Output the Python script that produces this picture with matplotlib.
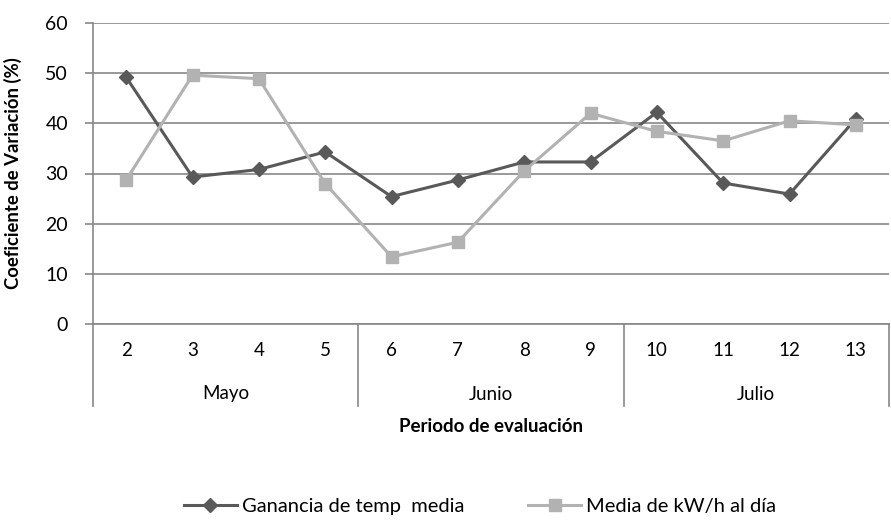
import matplotlib
matplotlib.use("Agg")
import matplotlib.pyplot as plt
from matplotlib.transforms import blended_transform_factory

periods = ["2", "3", "4", "5", "6", "7", "8", "9", "10", "11", "12", "13"]
months = ["Mayo", "Junio", "Julio"]
months_len = [4, 4, 4]
ganancia = [49.2, 29.3, 30.8, 34.3, 25.4, 28.7, 32.3, 32.3, 42.2, 28.1, 25.9, 40.9]
media_kwh = [28.7, 49.6, 48.9, 28.0, 13.4, 16.3, 30.5, 42.0, 38.4, 36.5, 40.5, 39.7]
yticks = [0, 10, 20, 30, 40, 50, 60]

plt.rcParams["font.family"] = ["Lato", "DejaVu Sans"]

fig = plt.figure(figsize=(8.91, 5.25), dpi=100)
ax = fig.add_axes([93 / 891, 1 - 324 / 525, (889 - 93) / 891, (324 - 23) / 525])

x = [i + 0.5 for i in range(len(periods))]
ax.plot(x, ganancia, color="#595959", lw=2.2, marker="D", ms=7,
        label="Ganancia de temp  media", zorder=3)
ax.plot(x, media_kwh, color="#b2b2b2", lw=2.2, marker="s", ms=8,
        label="Media de kW/h al día", zorder=3)

ax.set_xlim(0, len(periods))
ax.set_ylim(0, 60)
ax.set_yticks(yticks)
ax.set_yticklabels([str(v) for v in yticks], fontsize=14)
ax.tick_params(axis="y", length=6, width=1.2, color="#878787", pad=12,
               direction="out")
ax.tick_params(axis="x", bottom=False, labelbottom=False)
ax.grid(axis="y", color="#878787", lw=1.2)
ax.set_axisbelow(True)
for side in ["top", "right"]:
    ax.spines[side].set_visible(False)
ax.spines["left"].set_color("#878787")
ax.spines["bottom"].set_color("#878787")
ax.spines["left"].set_linewidth(1.2)
ax.spines["bottom"].set_linewidth(1.2)

# multi-level category axis
trans = blended_transform_factory(ax.transData, ax.transAxes)
h = 301.0
for xi, lab in zip(x, periods):
    ax.text(xi, -(351 - 324) / h, lab, transform=trans, ha="center", va="center",
            fontsize=13.5)
start = 0
bounds = [0]
for m, n in zip(months, months_len):
    ax.text(start + n / 2, -(394 - 324) / h, m, transform=trans, ha="center",
            va="center", fontsize=13.5)
    start += n
    bounds.append(start)
for b in bounds:
    ax.plot([b, b], [0, -(406 - 324) / h], transform=trans, color="#878787",
            lw=1.2, clip_on=False)

ax.text(0.5, -(427 - 324) / h, "Periodo de evaluación", transform=ax.transAxes,
        ha="center", va="center", fontsize=13.5, fontweight="bold")
ax.set_ylabel("Coeficiente de Variación (%)", fontsize=13.3, fontweight="bold",
              labelpad=8)
ax.yaxis.set_label_coords(-(93 - 22) / 796, 0.5)

fig.legend(loc="center", bbox_to_anchor=(480 / 891, 1 - 506 / 525), ncol=2,
           frameon=False, fontsize=14.5, handlelength=2.6, columnspacing=3.2,
           handletextpad=0.25)

fig.savefig("out.png", dpi=100)
